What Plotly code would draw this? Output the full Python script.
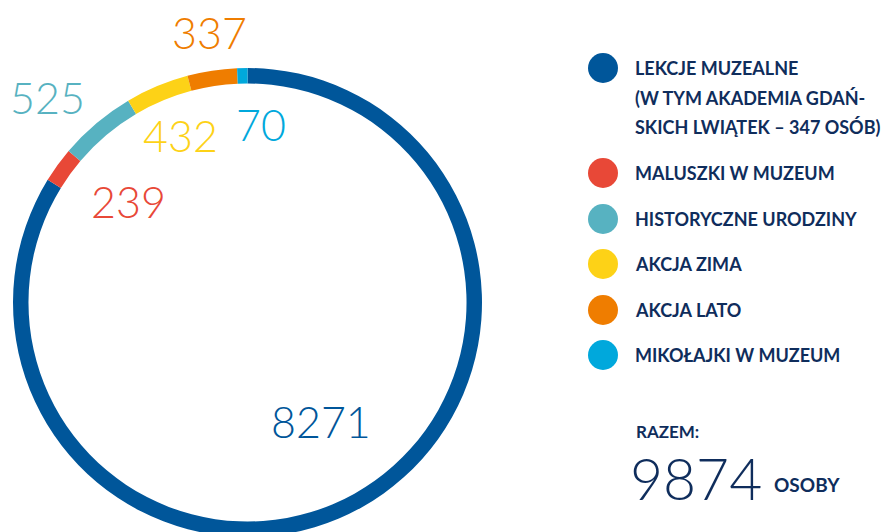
import plotly.graph_objects as go

# ---- data ----
categories = ["LEKCJE MUZEALNE", "MALUSZKI W MUZEUM", "HISTORYCZNE URODZINY",
              "AKCJA ZIMA", "AKCJA LATO", "MIKOŁAJKI W MUZEUM"]
values = [8271, 239, 525, 432, 337, 70]
colors = ["#00569A", "#E84837", "#57B2C1", "#FDD217", "#EF7D00", "#00A8DC"]
legend_lines = [
    ["LEKCJE MUZEALNE", "(W TYM AKADEMIA GDAŃ-", "SKICH LWIĄTEK – 347 OSÓB)"],
    ["MALUSZKI W MUZEUM"],
    ["HISTORYCZNE URODZINY"],
    ["AKCJA ZIMA"],
    ["AKCJA LATO"],
    ["MIKOŁAJKI W MUZEUM"],
]
total_label = "RAZEM:"
total_value = sum(values)
total_unit = "OSOBY"

NAVY = "#0F2D5C"
W, H = 896, 532
OFF = 8  # page body margin: figure starts at (8, 8) on screen

fig = go.Figure()

# donut ring (screen box x 13..482, y 68..537)
def px_x(x):
    return (x - OFF) / W

def px_y(y):
    return 1 - (y - OFF) / H

fig.add_trace(go.Pie(
    labels=categories, values=values, sort=False, direction="clockwise",
    rotation=0, hole=0.934,
    marker=dict(colors=colors, line=dict(width=0)),
    textinfo="none", hoverinfo="label+value", showlegend=False,
    domain=dict(x=[px_x(13), px_x(482)], y=[max(0, px_y(537)), px_y(68)]),
))

# legend swatches on a screen-pixel cartesian axis
legend_y = [68, 173, 219, 264, 310, 355]
fig.add_trace(go.Scatter(
    x=[603] * len(categories), y=legend_y, mode="markers",
    marker=dict(size=30, color=colors, line=dict(width=0)),
    hoverinfo="skip", showlegend=False,
))

annotations = []
# value labels around the ring
label_pos = [(321, 421), (128, 201), (47, 97), (180, 135), (209, 32), (261, 124)]
for v, c, (lx, ly) in zip(values, colors, label_pos):
    annotations.append(dict(
        x=lx, y=ly, xref="x", yref="y", text=str(v), showarrow=False,
        xanchor="center", yanchor="middle",
        font=dict(family="Lato", size=43, color=c, weight=300),
    ))

# legend texts
for lines, y0 in zip(legend_lines, legend_y):
    for i, line in enumerate(lines):
        annotations.append(dict(
            x=633, y=y0 + i * 29.5, xref="x", yref="y", text=line, showarrow=False,
            xanchor="left", yanchor="middle",
            font=dict(family="Lato", size=18, color=NAVY, weight=700),
        ))

# total
annotations.append(dict(x=634, y=431, xref="x", yref="y", text=total_label, showarrow=False,
                        xanchor="left", yanchor="middle",
                        font=dict(family="Lato", size=17, color=NAVY, weight=700)))
annotations.append(dict(x=628, y=478, xref="x", yref="y", text=str(total_value), showarrow=False,
                        xanchor="left", yanchor="middle",
                        font=dict(family="Lato", size=57, color=NAVY, weight=300)))
annotations.append(dict(x=772, y=484, xref="x", yref="y", text=total_unit, showarrow=False,
                        xanchor="left", yanchor="middle",
                        font=dict(family="Lato", size=19, color=NAVY, weight=700)))

fig.update_layout(
    width=W, height=H, margin=dict(l=0, r=0, t=0, b=0),
    paper_bgcolor="white", plot_bgcolor="rgba(0,0,0,0)",
    xaxis=dict(range=[OFF, OFF + W], visible=False, domain=[0, 1], fixedrange=True),
    yaxis=dict(range=[OFF + H, OFF], visible=False, domain=[0, 1], fixedrange=True),
    annotations=annotations, showlegend=False,
)

fig.write_html("out.html")
